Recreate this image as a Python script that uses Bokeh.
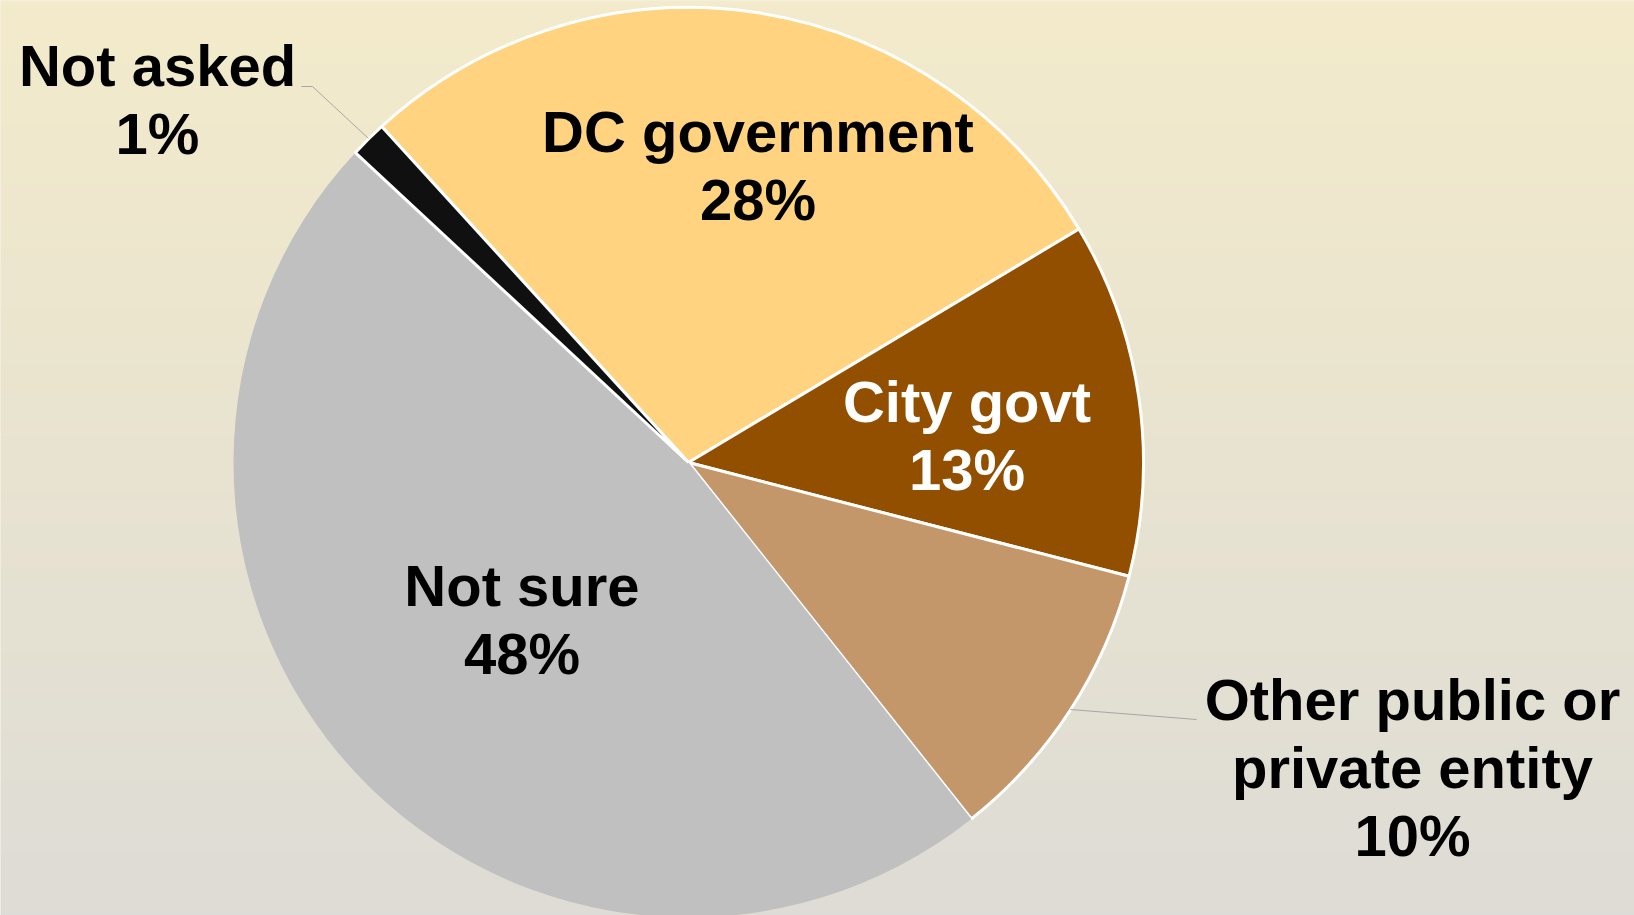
import numpy as np
from bokeh.plotting import figure
from bokeh.models import Range1d, ColumnDataSource
from bokeh.core.properties import value
from bokeh.embed import file_html
from bokeh.resources import INLINE

# ---- data ----
categories = ["DC government", "City govt", "Other public or\nprivate entity", "Not sure", "Not asked"]
shares = [28.2, 12.6, 10.3, 47.6, 1.3]
pct_labels = ["28%", "13%", "10%", "48%", "1%"]
colors = ["#FFD37F", "#934F00", "#C4976A", "#C0C0C0", "#101010"]
text_colors = ["#000000", "#FFFFFF", "#000000", "#000000", "#000000"]

# ---- layout (pixel space of the figure; screen coords, y down) ----
W, H = 1634, 915
CX, CY, R = 688, 462, 455
START_DEG = 132.4
label_anchor = [(757.5, 152), (966.5, 422), (1412, 720), (521.5, 606), (157, 86)]
LINE_GAP = 68
BASE_FIX = 21  # compensation for text baseline placement


def sy(y):
    return H - y


p = figure(width=W, height=H, x_range=Range1d(0, W), y_range=Range1d(0, H),
           output_backend="svg", toolbar_location=None, min_border=0)
p.axis.visible = False
p.grid.visible = False
p.outline_line_color = None
p.background_fill_color = "#E9E4D0"
p.border_fill_color = "#E9E4D0"

# background gradient (top cream -> bottom grey)
top = np.array([243, 235, 203])
bot = np.array([222, 220, 214])
n = 200
t = np.linspace(0, 1, n)[:, None]
rgb = (bot * (1 - t) + top * t).astype(np.uint32)
img = np.empty((n, 2), dtype=np.uint32)
view = img.view(dtype=np.uint8).reshape((n, 2, 4))
for j in range(2):
    view[:, j, 0] = rgb[:, 0]
    view[:, j, 1] = rgb[:, 1]
    view[:, j, 2] = rgb[:, 2]
    view[:, j, 3] = 255
p.image_rgba(image=[img], x=0, y=0, dw=W, dh=H)

# wedges (clockwise from START_DEG)
vals = np.array(shares, dtype=float)
fr = vals / vals.sum()
cum = np.concatenate([[0], np.cumsum(fr)])
starts = np.deg2rad(START_DEG) - 2 * np.pi * cum[:-1]
ends = np.deg2rad(START_DEG) - 2 * np.pi * cum[1:]
line_alpha = [1, 1, 1, 0, 1]
src = ColumnDataSource(dict(x=[CX] * 5, y=[sy(CY)] * 5, s=list(starts), e=list(ends),
                            c=colors, la=line_alpha))
p.wedge(x="x", y="y", radius=R, start_angle="s", end_angle="e", direction="clock",
        fill_color="c", line_color="white", line_alpha="la", line_width=3, source=src)

# leader lines
p.line(x=[301, 312, 368], y=[sy(86), sy(86), sy(138)], line_color="#A6A6A6", line_width=1)
p.line(x=[1070, 1196], y=[sy(709), sy(719)], line_color="#A6A6A6", line_width=1)

# labels
lx, ly, lt, lc = [], [], [], []
for cat, pct, (ax, ay), tc in zip(categories, pct_labels, label_anchor, text_colors):
    lines = cat.split("\n") + [pct]
    for i, ln in enumerate(lines):
        lx.append(ax)
        ly.append(sy(ay + i * LINE_GAP - BASE_FIX))
        lt.append(ln)
        lc.append(tc)
p.text(x=lx, y=ly, text=lt, text_color=lc, text_align="center", text_baseline="alphabetic",
       text_font=value("Liberation Sans"), text_font_style="bold", text_font_size="58px")

open("out.html", "w").write(file_html(p, INLINE))
